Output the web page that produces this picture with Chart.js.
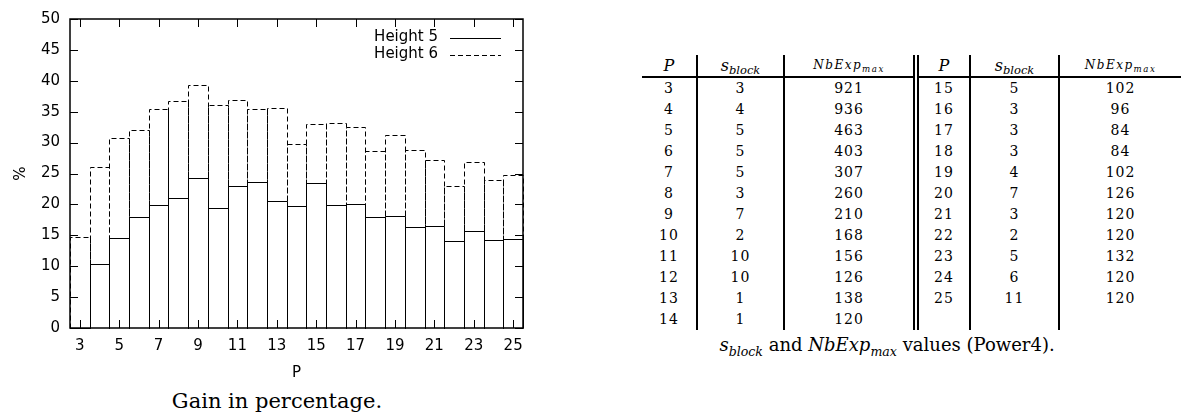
<!DOCTYPE html>
<html>
<head>
<meta charset="utf-8">
<script src="https://cdn.jsdelivr.net/npm/chart.js@4.4.0/dist/chart.umd.min.js"></script>
<style>
  body { margin: 0; background: #fff; width: 1182px; height: 418px; overflow: hidden; position: relative; }
  #chartBox { position: absolute; left: 0; top: 0; width: 540px; height: 382px; }
  .cap { position: absolute; font-family: 'DejaVu Serif', serif; color: #000; white-space: nowrap; transform: translateX(-50%); }
  #chartCap { left: 277px; top: 389px; font-size: 21px; }
  #tableCap { left: 887px; top: 334px; font-size: 18px; }
  #tbl { position: absolute; left: 642px; top: 55px; border-collapse: collapse; table-layout: fixed;
         font-family: 'DejaVu Serif', serif; font-size: 14px; color: #000; }
  #tbl td, #tbl th { text-align: center; padding: 0; height: 21px; line-height: 21px; font-weight: normal; letter-spacing: 1px; }
  #tbl th { border-bottom: 2px solid #000; font-size: 16px; letter-spacing: 0; }
  #tbl th.nb { font-size: 12px; letter-spacing: 1.5px; }
  #tbl sub { font-size: 72%; line-height: 0; vertical-align: -3px; }
  #tbl .c1, #tbl .c2, #tbl .c4, #tbl .c5 { border-right: 2px solid #000; }
  #tbl .c3 { border-right: 6px double #000; }
</style>
</head>
<body>
<div id="chartBox"><canvas id="chart-gain"></canvas></div>
<div id="chartCap" class="cap">Gain in percentage.</div>
<table id="tbl"></table>
<div id="tableCap" class="cap"><i>s</i><sub style="font-size:70%"><i>block</i></sub> and <i>NbExp</i><sub style="font-size:70%"><i>max</i></sub> values (Power4).</div>
<script>
// valeurs
const pValues = ['3', '4', '5', '6', '7', '8', '9', '10', '11', '12', '13', '14',
                 '15', '16', '17', '18', '19', '20', '21', '22', '23', '24', '25'];
const height5 = [0, 10.3, 14.5, 18.0, 19.9, 21.1, 24.3, 19.4, 23.0, 23.7, 20.5, 19.7,
                 23.4, 19.9, 20.1, 18.0, 18.1, 16.3, 16.5, 14.1, 15.7, 14.3, 14.4];
const height6 = [14.8, 26.0, 30.7, 32.0, 35.5, 36.7, 39.3, 36.1, 36.9, 35.5, 35.6, 29.8,
                 33.0, 33.1, 32.6, 28.6, 31.2, 28.8, 27.2, 23.0, 26.8, 23.9, 24.8];
const sBlock = [3, 4, 5, 5, 5, 3, 7, 2, 10, 10, 1, 1, 5, 3, 3, 3, 4, 7, 3, 2, 5, 6, 11];
const nbExpMax = [921, 936, 463, 403, 307, 260, 210, 168, 156, 126, 138, 120,
                  102, 96, 84, 84, 102, 126, 120, 120, 132, 120, 120];

// Tableau s_block / NbExp_max
const tbl = document.getElementById('tbl');
let html = '<colgroup><col style="width:55px"><col style="width:87px"><col style="width:132px">' +
           '<col style="width:54px"><col style="width:89px"><col style="width:122px"></colgroup>';
const head = '<th class="c1"><i>P</i></th><th class="c2"><i>s</i><sub><i>block</i></sub></th>';
html += '<tr>' + head + '<th class="c3 nb"><i>NbExp</i><sub><i>max</i></sub></th>' +
        head.replace('c1', 'c4').replace('c2', 'c5') + '<th class="nb"><i>NbExp</i><sub><i>max</i></sub></th></tr>';
const half = 12;
for (let i = 0; i < half; i++) {
    const j = i + half;
    html += '<tr><td class="c1">' + pValues[i] + '</td><td class="c2">' + sBlock[i] + '</td><td class="c3">' + nbExpMax[i] + '</td>';
    if (j < pValues.length) {
        html += '<td class="c4">' + pValues[j] + '</td><td class="c5">' + sBlock[j] + '</td><td>' + nbExpMax[j] + '</td>';
    } else {
        html += '<td class="c4"></td><td class="c5"></td><td></td>';
    }
    html += '</tr>';
}
tbl.innerHTML = html;

// Graphique gain
const font = { family: "'DejaVu Sans', sans-serif", size: 15 };

// cadre, graduations intérieures, contours des barres et légende façon gnuplot
const gnuplotFrame = {
    id: 'gnuplotFrame',
    afterDatasetsDraw(chart) {
        const c = chart.ctx;
        const area = chart.chartArea;
        c.save();
        c.strokeStyle = '#000';
        c.lineWidth = 1;
        // barres : Height 6 d'abord (pointillés), puis Height 5
        for (let d = chart.data.datasets.length - 1; d >= 0; d--) {
            const ds = chart.data.datasets[d];
            c.setLineDash(ds.dash);
            chart.getDatasetMeta(d).data.forEach(bar => {
                if (bar.y == null || isNaN(bar.y)) return;
                const l = Math.round(bar.x - bar.width / 2) + 0.5;
                const r = Math.round(bar.x + bar.width / 2) + 0.5;
                const t = Math.round(bar.y) + 0.5;
                const b = Math.round(bar.base) + 0.5;
                c.beginPath();
                c.moveTo(l, b);
                c.lineTo(l, t);
                c.lineTo(r, t);
                c.lineTo(r, b);
                c.stroke();
            });
        }
        c.setLineDash([]);
        // cadre
        c.lineWidth = 1.5;
        c.strokeRect(area.left, area.top, area.right - area.left, area.bottom - area.top);
        c.lineWidth = 1;
        // graduations
        const ys = chart.scales.y;
        ys.ticks.forEach(tk => {
            const py = Math.round(ys.getPixelForValue(tk.value)) + 0.5;
            c.beginPath();
            c.moveTo(area.left, py); c.lineTo(area.left + 8, py);
            c.moveTo(area.right, py); c.lineTo(area.right - 8, py);
            c.stroke();
        });
        const xs = chart.scales.x;
        pValues.forEach((p, i) => {
            if (i % 2 !== 0) return;
            const px = Math.round(xs.getPixelForValue(i)) + 0.5;
            c.beginPath();
            c.moveTo(px, area.bottom); c.lineTo(px, area.bottom - 8);
            c.moveTo(px, area.top); c.lineTo(px, area.top + 8);
            c.stroke();
        });
        // légende
        c.font = font.size + 'px ' + font.family;
        c.fillStyle = '#000';
        c.textAlign = 'right';
        c.textBaseline = 'middle';
        chart.data.datasets.forEach((ds, k) => {
            const ly = area.top + 18.5 + k * 17;
            c.fillText(ds.label, area.right - 85, ly);
            c.setLineDash(ds.dash);
            c.beginPath();
            c.moveTo(area.right - 73, Math.round(ly) + 0.5);
            c.lineTo(area.right - 22, Math.round(ly) + 0.5);
            c.stroke();
        });
        c.restore();
    }
};

new Chart(document.getElementById('chart-gain'), {
    type: 'bar',
    data: {
        labels: pValues,
        datasets: [{
            label: 'Height 5',
            data: height5,
            dash: [],
            backgroundColor: 'rgba(0,0,0,0)',
            borderWidth: 0,
            grouped: false,
            categoryPercentage: 1,
            barPercentage: 1
        }, {
            label: 'Height 6',
            data: height6,
            dash: [5, 3],
            backgroundColor: 'rgba(0,0,0,0)',
            borderWidth: 0,
            grouped: false,
            categoryPercentage: 1,
            barPercentage: 1
        }]
    },
    options: {
        responsive: true,
        maintainAspectRatio: false,
        animation: false,
        layout: { padding: { top: 16, right: 17, left: 0, bottom: 0 } },
        plugins: { legend: { display: false }, tooltip: { enabled: false } },
        scales: {
            x: {
                grid: { display: false, drawTicks: false },
                border: { display: false },
                ticks: {
                    autoSkip: false, maxRotation: 0, padding: 9, color: '#000', font: font,
                    callback: (v, i) => (i % 2 === 0 ? pValues[i] : '')
                },
                title: { display: true, text: 'P', color: '#000', font: font, padding: 0 },
                afterFit: s => { s.height = 54; }
            },
            y: {
                min: 0, max: 50,
                grid: { display: false, drawTicks: false },
                border: { display: false },
                ticks: { stepSize: 5, padding: 10, color: '#000', font: font },
                title: { display: true, text: '%', color: '#000', font: font, padding: { top: 12, bottom: 0 } },
                afterFit: s => { s.width = 70; }
            }
        }
    },
    plugins: [gnuplotFrame]
});
</script>
</body>
</html>
